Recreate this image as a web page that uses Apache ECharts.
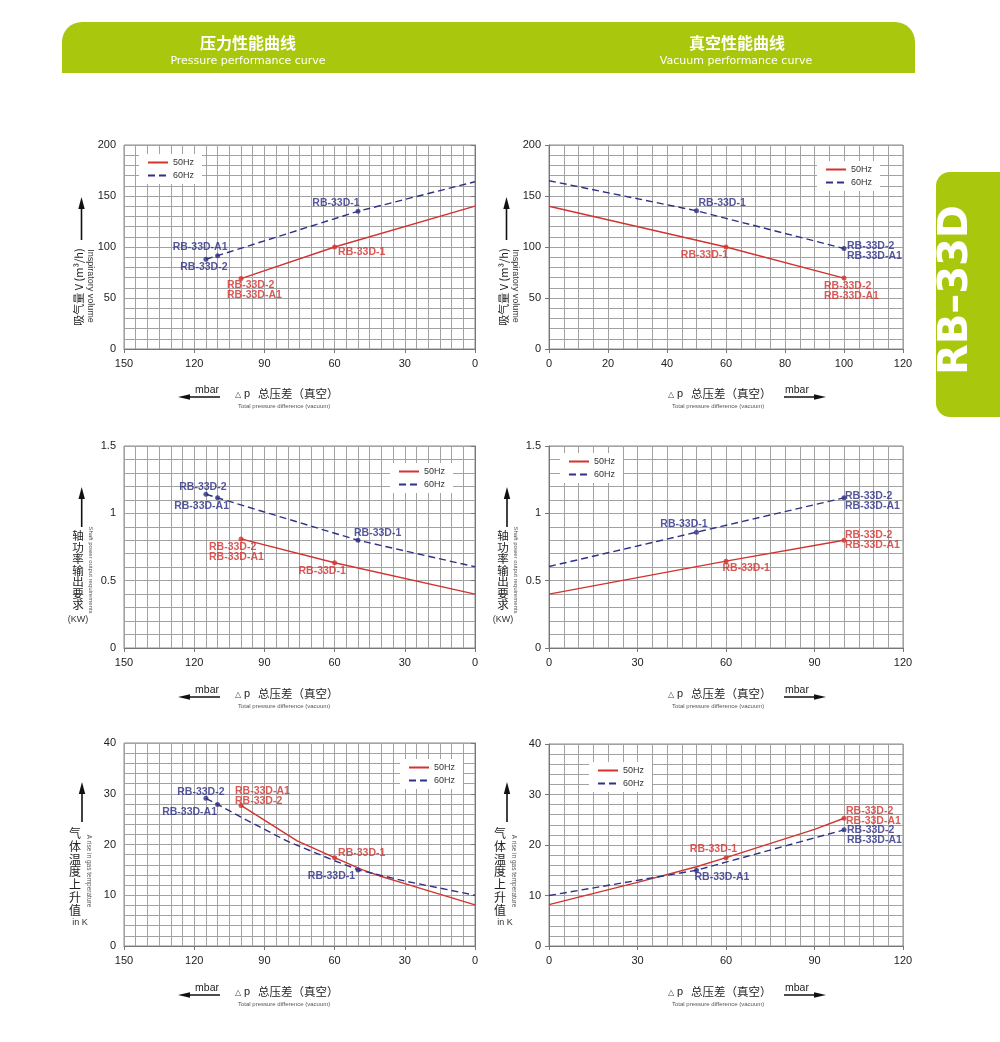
<!DOCTYPE html>
<html>
<head>
<meta charset="utf-8">
<script src="https://cdn.jsdelivr.net/npm/echarts@6/dist/echarts.min.js"></script>
<style>html,body{margin:0;padding:0;background:#fff;}#c{width:1000px;height:1042px;}</style>
</head>
<body>
<div id="c"></div>
<script>
// ---------- tick values ----------
const pressureXTicks = [0, 30, 60, 90, 120, 150];
const vacuumVolXTicks = [0, 20, 40, 60, 80, 100, 120];
const vacuumXTicks = [0, 30, 60, 90, 120];
const volumeYTicks = [0, 50, 100, 150, 200];
const powerYTicks = [0, 0.5, 1, 1.5];
const tempYTicks = [0, 10, 20, 30, 40];

// ---------- curves [Δp mbar, value] ----------
const volP50 = [[100, 69], [60, 100], [0, 140]];
const volP60 = [[115, 88], [110, 91.5], [50, 135], [0, 164]];
const volV50 = [[0, 140], [60, 100], [100, 69.5]];
const volV60 = [[0, 165], [50, 135.5], [100, 98.5]];
const powP50 = [[100, 0.81], [60, 0.633], [0, 0.40]];
const powP60 = [[115, 1.142], [110, 1.115], [50, 0.80], [0, 0.603]];
const powV50 = [[0, 0.40], [60, 0.645], [100, 0.80]];
const powV60 = [[0, 0.605], [50, 0.86], [100, 1.115]];
const tmpP50 = [[100, 27.7], [76, 20.7], [60, 17.4], [48, 15.0], [40, 13.7], [30, 12.3], [0, 8.1]];
const tmpP60 = [[115, 29.1], [110, 27.9], [100, 25.4], [80, 20.6], [60, 16.8], [50, 15.0], [30, 12.8], [0, 10]];
const tmpV50 = [[0, 8.2], [30, 12.6], [50, 15.7], [60, 17.5], [90, 23.1], [100, 25.3]];
const tmpV60 = [[0, 10], [50, 15], [60, 16.6], [100, 23]];

// ---------- marked model points ----------
const volP50Pts = [[100, 69], [60, 100]];
const volP50Names = ['RB-33D-2\nRB-33D-A1', 'RB-33D-1'];
const volP60Pts = [[115, 88], [110, 91.5], [50, 135]];
const volP60Names = ['RB-33D-2', 'RB-33D-A1', 'RB-33D-1'];
const volV50Pts = [[60, 100], [100, 69.5]];
const volV50Names = ['RB-33D-1', 'RB-33D-2\nRB-33D-A1'];
const volV60Pts = [[50, 135.5], [100, 98.5]];
const volV60Names = ['RB-33D-1', 'RB-33D-2\nRB-33D-A1'];
const powP50Pts = [[100, 0.81], [60, 0.633]];
const powP50Names = ['RB-33D-2\nRB-33D-A1', 'RB-33D-1'];
const powP60Pts = [[115, 1.142], [110, 1.115], [50, 0.80]];
const powP60Names = ['RB-33D-2', 'RB-33D-A1', 'RB-33D-1'];
const powV50Pts = [[60, 0.645], [100, 0.80]];
const powV50Names = ['RB-33D-1', 'RB-33D-2\nRB-33D-A1'];
const powV60Pts = [[50, 0.86], [100, 1.115]];
const powV60Names = ['RB-33D-1', 'RB-33D-2\nRB-33D-A1'];
const tmpP50Pts = [[100, 27.7], [60, 17.4]];
const tmpP50Names = ['RB-33D-A1\nRB-33D-2', 'RB-33D-1'];
const tmpP60Pts = [[115, 29.1], [110, 27.9], [50, 15.0]];
const tmpP60Names = ['RB-33D-2', 'RB-33D-A1', 'RB-33D-1'];
const tmpV50Pts = [[60, 17.5], [100, 25.3]];
const tmpV50Names = ['RB-33D-1', 'RB-33D-2\nRB-33D-A1'];
const tmpV60Pts = [[50, 15], [100, 23]];
const tmpV60Names = ['RB-33D-A1', 'RB-33D-2\nRB-33D-A1'];

const legendNames = ['50Hz', '60Hz'];

// ---------- styles ----------
const RED = '#d3332e', BLUE = '#2e3186', GREEN = '#a9c70c';
const RED_T = '#d22f2c', BLUE_T = '#2a2d85';
const FONT = '"Liberation Sans", Arial, sans-serif';
const CJK = '"Noto Sans CJK SC", "Noto Sans", sans-serif';
const GRIDC = '#a2a2a2';

const grids = [
  {left: 124, top: 145, width: 351, height: 204},
  {left: 549, top: 145, width: 354, height: 204},
  {left: 124, top: 446, width: 351, height: 202},
  {left: 549, top: 446, width: 354, height: 202},
  {left: 124, top: 743, width: 351, height: 203},
  {left: 549, top: 744, width: 354, height: 202}
].map(g => Object.assign({show: true, borderColor: '#8a8a8a', borderWidth: 1, backgroundColor: 'transparent'}, g));

function axisFrom(ticks, minorSplit, extra) {
  return Object.assign({
    type: 'value',
    min: ticks[0], max: ticks[ticks.length - 1], interval: ticks[1] - ticks[0],
    axisLine: {show: true, lineStyle: {color: '#777', width: 1}},
    axisTick: {show: true, length: 4, lineStyle: {color: '#777'}},
    axisLabel: {color: '#222', fontSize: 11, fontFamily: FONT},
    splitLine: {show: true, lineStyle: {color: GRIDC, width: 1}},
    minorTick: {show: false, splitNumber: minorSplit},
    minorSplitLine: {show: true, lineStyle: {color: GRIDC, width: 1}}
  }, extra || {});
}
const xLab = {color: '#222', fontSize: 11, fontFamily: FONT, margin: 9};
const xAxes = [
  axisFrom(pressureXTicks, 6, {gridIndex: 0, inverse: true, axisLabel: xLab}),
  axisFrom(vacuumVolXTicks, 4, {gridIndex: 1, axisLabel: xLab}),
  axisFrom(pressureXTicks, 6, {gridIndex: 2, inverse: true, axisLabel: xLab}),
  axisFrom(vacuumXTicks, 6, {gridIndex: 3, axisLabel: xLab}),
  axisFrom(pressureXTicks, 6, {gridIndex: 4, inverse: true, axisLabel: xLab}),
  axisFrom(vacuumXTicks, 6, {gridIndex: 5, axisLabel: xLab})
];
const yAxes = [
  axisFrom(volumeYTicks, 5, {gridIndex: 0}),
  axisFrom(volumeYTicks, 5, {gridIndex: 1}),
  axisFrom(powerYTicks, 5, {gridIndex: 2}),
  axisFrom(powerYTicks, 5, {gridIndex: 3}),
  axisFrom(tempYTicks, 5, {gridIndex: 4}),
  axisFrom(tempYTicks, 5, {gridIndex: 5})
];

function line(name, data, idx, dashed) {
  return {
    type: 'line', name: name, data: data, xAxisIndex: idx, yAxisIndex: idx,
    symbol: 'none', smooth: false, z: 3, silent: true,
    lineStyle: {color: dashed ? BLUE : RED, width: 1.4, type: dashed ? [7, 4] : 'solid'},
    itemStyle: {color: dashed ? BLUE : RED}
  };
}
function dots(pts, names, lbl, idx, color, tcolor) {
  return {
    type: 'scatter', name: 'pts' + idx + color, xAxisIndex: idx, yAxisIndex: idx,
    symbolSize: 5, itemStyle: {color: color}, z: 5, silent: true,
    data: pts.map((p, i) => ({
      value: p,
      label: {
        show: true, position: 'inside', formatter: names[i], offset: lbl[i][0],
        align: lbl[i][1] || 'center', verticalAlign: 'middle', color: tcolor,
        fontSize: 10.5, fontWeight: 'bold', lineHeight: 10, fontFamily: FONT
      }
    }))
  };
}

const series = [
  line('50Hz', volP50, 0, false), line('60Hz', volP60, 0, true),
  dots(volP50Pts, volP50Names, [[[-14, 11], 'left'], [[3.5, 5], 'left']], 0, RED, RED_T),
  dots(volP60Pts, volP60Names, [[[-2, 7.5]], [[-17.5, -8.5]], [[-22, -8]]], 0, BLUE, BLUE_T),

  line('50Hz', volV50, 1, false), line('60Hz', volV60, 1, true),
  dots(volV50Pts, volV50Names, [[[-21.5, 8]], [[-20, 12.5], 'left']], 1, RED, RED_T),
  dots(volV60Pts, volV60Names, [[[2, -8], 'left'], [[3, 3], 'left']], 1, BLUE, BLUE_T),

  line('50Hz', powP50, 2, false), line('60Hz', powP60, 2, true),
  dots(powP50Pts, powP50Names, [[[-32, 13], 'left'], [[-12.5, 8]]], 2, RED, RED_T),
  dots(powP60Pts, powP60Names, [[[-3, -7]], [[-16, 8]], [[-4, -7], 'left']], 2, BLUE, BLUE_T),

  line('50Hz', powV50, 3, false), line('60Hz', powV60, 3, true),
  dots(powV50Pts, powV50Names, [[[-3.5, 7], 'left'], [[1, 0], 'left']], 3, RED, RED_T),
  dots(powV60Pts, powV60Names, [[[-12.5, -8]], [[1, 3], 'left']], 3, BLUE, BLUE_T),

  line('50Hz', tmpP50, 4, false), line('60Hz', tmpP60, 4, true),
  dots(tmpP50Pts, tmpP50Names, [[[-6, -9.5], 'left'], [[3.5, -5], 'left']], 4, RED, RED_T),
  dots(tmpP60Pts, tmpP60Names, [[[-5, -6]], [[-28, 7.5]], [[-26.5, 6]]], 4, BLUE, BLUE_T),

  line('50Hz', tmpV50, 5, false), line('60Hz', tmpV60, 5, true),
  dots(tmpV50Pts, tmpV50Names, [[[-12.5, -8.5]], [[2, -2], 'left']], 5, RED, RED_T),
  dots(tmpV60Pts, tmpV60Names, [[[-2, 7], 'left'], [[3, 5], 'left']], 5, BLUE, BLUE_T)
];

function legendAt(left, top) {
  return {
    data: legendNames, orient: 'vertical', left: left, top: top,
    itemWidth: 20, itemHeight: 9, itemGap: 4, padding: [4, 8, 4, 8],
    backgroundColor: '#fff', selectedMode: false,
    itemStyle: {opacity: 0, borderWidth: 0},
    textStyle: {fontSize: 9, color: '#333', fontFamily: FONT}
  };
}
const legends = [
  legendAt(139, 154), legendAt(817, 161), legendAt(390, 463),
  legendAt(560, 453), legendAt(400, 759), legendAt(589, 762)
];

// ---------- decorations (text, arrows, header) ----------
const G = [];
function txt(x, y, text, size, opts) {
  opts = opts || {};
  G.push({
    type: 'text', x: x, y: y, rotation: opts.rot || 0, z: 10,
    style: {
      text: text, fontSize: size, fontFamily: opts.family || FONT, fontWeight: opts.weight || 'normal',
      fill: opts.color || '#222', align: opts.align || 'center', verticalAlign: opts.va || 'middle',
      textAlign: opts.align || 'center', textVerticalAlign: opts.va || 'middle',
      lineHeight: opts.lh || size
    }
  });
}
function vArrow(x, yTip, yEnd) {
  G.push({type: 'line', z: 10, shape: {x1: x, y1: yEnd, x2: x, y2: yTip + 8}, style: {stroke: '#111', lineWidth: 1.6}});
  G.push({type: 'polygon', z: 10, shape: {points: [[x, yTip], [x - 3.2, yTip + 12], [x + 3.2, yTip + 12]]}, style: {fill: '#111'}});
}
function hArrow(xFrom, xTip, y) {
  const d = xTip < xFrom ? 1 : -1;
  G.push({type: 'line', z: 10, shape: {x1: xFrom, y1: y, x2: xTip + d * 8, y2: y}, style: {stroke: '#111', lineWidth: 1.4}});
  G.push({type: 'polygon', z: 10, shape: {points: [[xTip, y], [xTip + d * 12, y - 2.8], [xTip + d * 12, y + 2.8]]}, style: {fill: '#111'}});
}
function xNameLeft(o) {
  hArrow(220, 178, 397 + o);
  txt(219, 390 + o, 'mbar', 10.5, {align: 'right'});
  txt(238, 395 + o, '△', 8, {color: '#444'});
  txt(247, 394 + o, 'p', 11, {color: '#222'});
  txt(258, 394 + o, '总压差（真空）', 11.5, {align: 'left', family: CJK});
  txt(238, 406 + o, 'Total pressure difference (vacuum)', 6, {align: 'left', color: '#555'});
}
function xNameRight(o) {
  txt(671, 395 + o, '△', 8, {color: '#444'});
  txt(680, 394 + o, 'p', 11, {color: '#222'});
  txt(691, 394 + o, '总压差（真空）', 11.5, {align: 'left', family: CJK});
  txt(672, 406 + o, 'Total pressure difference (vacuum)', 6, {align: 'left', color: '#555'});
  txt(785, 390 + o, 'mbar', 10.5, {align: 'left'});
  hArrow(784, 826, 397 + o);
}
xNameLeft(0); xNameRight(0);
xNameLeft(300); xNameRight(300);
xNameLeft(598); xNameRight(598);

// y names: volume
[0, 425].forEach(dx => {
  vArrow(81.5 + dx, 197, 240);
  txt(78.5 + dx, 287, '吸气量 V (m³/h)', 11, {rot: Math.PI / 2, family: CJK});
  txt(90 + dx, 286, 'Inspiratory volume', 9, {rot: -Math.PI / 2, color: '#333'});
});
// y names: power
[[78, 91, 81.7], [503, 516, 507]].forEach(([cx, ex, ax]) => {
  vArrow(ax, 487, 527);
  txt(cx, 530, '轴\n功\n率\n输\n出\n要\n求', 11.5, {va: 'top', family: CJK, lh: 11.5});
  txt(cx, 620, '(KW)', 9, {color: '#333'});
  txt(ex, 570, 'Shaft power output requirements', 6, {rot: -Math.PI / 2, color: '#555'});
});
// y names: temperature
[[75, 89, 82, 80], [500, 514, 507, 505]].forEach(([cx, ex, ax, kx]) => {
  vArrow(ax, 782, 822);
  txt(cx, 827, '气\n体\n温\n度\n上\n升\n值', 12, {va: 'top', family: CJK, lh: 12.8});
  txt(kx, 923, 'in K', 9, {color: '#333'});
  txt(ex, 871, 'A rise in gas temperature', 6.5, {rot: -Math.PI / 2, color: '#555'});
});

// header band
G.unshift({type: 'rect', z: 1, shape: {x: 62, y: 22, width: 853, height: 51, r: [20, 20, 0, 0]}, style: {fill: GREEN}});
txt(248, 43, '压力性能曲线', 16, {family: CJK, weight: 'bold', color: '#fff'});
txt(248, 61, 'Pressure performance curve', 11, {family: '"DejaVu Sans", sans-serif', color: '#fff'});
txt(737, 43, '真空性能曲线', 16, {family: CJK, weight: 'bold', color: '#fff'});
txt(736, 61, 'Vacuum performance curve', 11, {family: '"DejaVu Sans", sans-serif', color: '#fff'});
// side tab
G.push({type: 'rect', z: 1, shape: {x: 936, y: 172, width: 70, height: 245, r: [14, 0, 0, 14]}, style: {fill: GREEN}});
txt(957, 290, 'RB–33D', 40, {rot: Math.PI / 2, weight: 'bold', color: '#fff', family: '"DejaVu Sans", sans-serif'});

const chart = echarts.init(document.getElementById('c'), null, {renderer: 'canvas'});
chart.setOption({
  animation: false,
  backgroundColor: '#fff',
  grid: grids,
  xAxis: xAxes,
  yAxis: yAxes,
  legend: legends,
  series: series,
  graphic: G
});
</script>
</body>
</html>
